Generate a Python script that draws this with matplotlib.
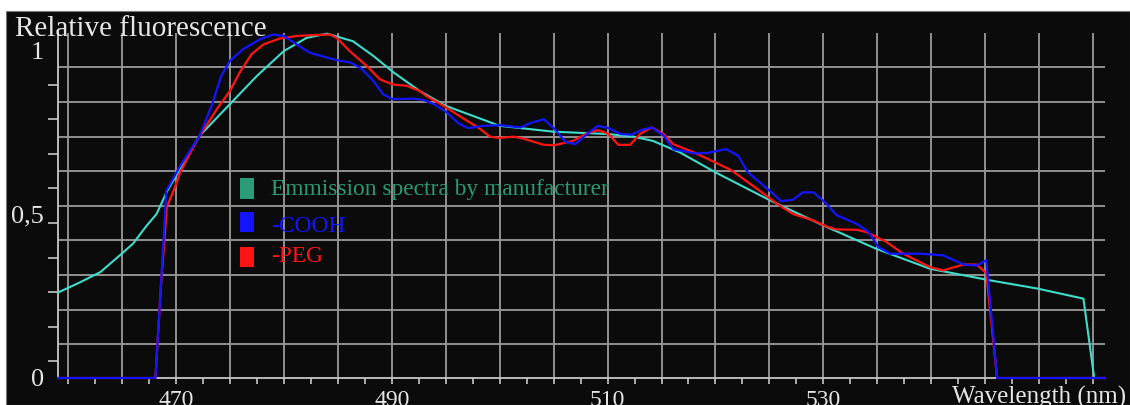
import numpy as np
import matplotlib
matplotlib.use("Agg")
import matplotlib.pyplot as plt
from matplotlib.patches import Rectangle

# Emission spectra (wavelength in nm, relative fluorescence)
wl_mfr = [459.1, 461.0, 463.0, 464.8, 466.0, 467.3, 468.2, 469.2, 472.2, 475.0,
          477.5, 480.0, 482.1, 484.0, 486.4, 488.3, 490.2, 492.6, 495.0, 500.0,
          505.0, 510.0, 512.4, 514.2, 516.7, 520.0, 525.1, 530.0, 534.9, 539.9,
          545.4, 549.8, 554.1, 555.1]
val_mfr = [0.261, 0.29, 0.323, 0.374, 0.409, 0.465, 0.500, 0.571, 0.739, 0.835,
           0.921, 0.997, 1.037, 1.050, 1.027, 0.982, 0.931, 0.875, 0.830, 0.769,
           0.751, 0.744, 0.736, 0.723, 0.688, 0.627, 0.541, 0.465, 0.394, 0.333,
           0.298, 0.273, 0.242, 0.0]

wl_cooh = [459.1, 468.1, 468.6, 469.0, 469.1, 470.4, 472.2, 473.3, 474.2, 475.0,
           476.2, 477.8, 479.0, 480.0, 481.2, 482.4, 484.0, 485.2, 486.1, 487.1,
           488.3, 489.2, 490.1, 492.0, 492.9, 493.9, 495.1, 496.2, 497.1, 498.5,
           500.0, 501.9, 503.0, 504.1, 505.1, 506.1, 507.0, 508.1, 509.1, 510.1,
           511.2, 512.2, 513.2, 514.1, 515.2, 516.1, 518.0, 519.2, 521.0, 522.1,
           523.0, 524.1, 525.2, 526.1, 527.2, 528.1, 529.1, 530.3, 531.2, 533.1,
           534.2, 535.1, 536.2, 539.0, 541.1, 543.0, 544.2, 545.1, 546.1, 556.1]
val_cooh = [0, 0, 0.277, 0.51, 0.571, 0.647, 0.739, 0.830, 0.921, 0.967,
            1.002, 1.033, 1.047, 1.043, 1.017, 0.992, 0.977, 0.967, 0.963, 0.946,
            0.906, 0.865, 0.850, 0.852, 0.848, 0.835, 0.810, 0.776, 0.762, 0.769,
            0.771, 0.764, 0.779, 0.789, 0.759, 0.720, 0.713, 0.744, 0.769, 0.762,
            0.744, 0.742, 0.757, 0.764, 0.739, 0.698, 0.685, 0.686, 0.698, 0.678,
            0.627, 0.597, 0.566, 0.539, 0.544, 0.566, 0.566, 0.531, 0.497, 0.470,
            0.445, 0.399, 0.379, 0.379, 0.374, 0.346, 0.343, 0.359, 0, 0]

wl_peg = [459.1, 468.1, 468.6, 469.0, 469.15, 469.9, 470.4, 471.9, 473.9, 475.0,
          475.9, 477.0, 478.1, 479.6, 481.2, 483.0, 484.3, 484.9, 486.1, 487.7,
          488.9, 490.1, 491.4, 492.6, 493.2, 494.8, 496.9, 498.0, 499.1, 500.0,
          501.3, 502.2, 504.1, 505.1, 506.8, 508.1, 509.1, 510.1, 511.0, 512.1,
          513.0, 514.1, 515.2, 516.1, 518.0, 520.0, 521.4, 522.6, 524.1, 525.7,
          527.2, 529.1, 530.3, 531.2, 533.1, 534.0, 535.9, 537.4, 538.0, 539.9,
          541.1, 543.0, 544.2, 545.1, 546.1, 556.1]
val_peg = [0, 0, 0.277, 0.45, 0.521, 0.581, 0.627, 0.723, 0.825, 0.875,
           0.931, 0.987, 1.017, 1.035, 1.043, 1.046, 1.047, 1.037, 0.997, 0.951,
           0.911, 0.895, 0.891, 0.875, 0.860, 0.830, 0.786, 0.764, 0.736, 0.732,
           0.736, 0.730, 0.711, 0.710, 0.723, 0.746, 0.756, 0.744, 0.711, 0.711,
           0.744, 0.764, 0.744, 0.713, 0.688, 0.657, 0.635, 0.607, 0.571, 0.531,
           0.500, 0.480, 0.462, 0.453, 0.452, 0.445, 0.414, 0.379, 0.369, 0.338,
           0.328, 0.346, 0.346, 0.32, 0, 0]

series_labels = ["Emmission spectra by manufacturer", "-COOH", "-PEG"]
x_tick_values = [470, 490, 510, 530]
y_tick_values = [0, 0.5, 1]
y_tick_labels = ["0", "0,5", "1"]

W, H = 1130, 405
SERIF = ["Liberation Serif", "DejaVu Serif"]
BG = "#0b0b0b"
TXT = "#e6e6e6"
GRID = "#9a9a9a"
AXC = "#c8c8c8"
C_MFR, C_COOH, C_PEG = "#3fdcca", "#1414ff", "#ff1414"
C_MFR_KEY = "#2b9c78"


def fx(px):
    return px / W


def fy(py):
    return 1 - py / H


fig = plt.figure(figsize=(W / 100, H / 100), dpi=100, facecolor="white")
# dark panel behind the whole chart
fig.patches.append(Rectangle((fx(6), 0), 1 - fx(6), fy(11), transform=fig.transFigure,
                             facecolor=BG, edgecolor="#777777", linewidth=0.8, zorder=-10))

ax = fig.add_axes([fx(58), fy(378), fx(1105) - fx(58), fy(33) - fy(378)])
ax.set_zorder(1)
ax.set_facecolor(BG)
ax.set_xlim(459.07, 556.1)
ax.set_ylim(0, 1.052)

# grid
for xv in np.arange(460, 556, 5):
    ax.axvline(xv, color=GRID, lw=1.3, zorder=1)
ystep = 0.1055
for k in range(9):
    ax.axhline(1 - ystep * (k + 0.5), color=GRID, lw=1.3, zorder=1)

ax.plot(wl_mfr, val_mfr, color=C_MFR, lw=1.5, zorder=3, clip_on=False)
ax.plot(wl_peg, val_peg, color=C_PEG, lw=1.6, zorder=4, clip_on=False)
ax.plot(wl_cooh, val_cooh, color=C_COOH, lw=1.6, zorder=5, clip_on=False)

for s in ["top", "right"]:
    ax.spines[s].set_visible(False)
for s in ["left", "bottom"]:
    ax.spines[s].set_color(AXC)
    ax.spines[s].set_linewidth(1.3)
    ax.spines[s].set_zorder(2)

ax.set_xticks(x_tick_values)
ax.set_xticklabels([str(v) for v in x_tick_values])
ax.set_xticks(np.arange(460, 556, 2.5), minor=True)
ax.tick_params(axis="x", which="both", direction="out", length=4, width=1.2, color=AXC,
               labelsize=17, labelcolor=TXT, pad=5)
ax.set_yticks(y_tick_values)
ax.set_yticklabels(y_tick_labels)
ax.set_yticks([1 - ystep * k for k in range(10)], minor=True)
ax.tick_params(axis="y", which="major", length=0, labelsize=19, labelcolor=TXT, pad=10)
ax.tick_params(axis="y", which="minor", direction="out", length=7, width=1.2, color=AXC)
for lab in ax.get_xticklabels() + ax.get_yticklabels():
    lab.set_family(SERIF)

fig.text(fx(15), fy(36), "Relative fluorescence", family=SERIF, fontsize=21,
         color=TXT, va="baseline", ha="left", zorder=5)
fig.text(fx(952), fy(386), "Wavelength (nm)", family=SERIF, fontsize=18,
         color=TXT, va="top", ha="left", zorder=5)

# key
keys = [(C_MFR_KEY, 178, 199, 190), (C_COOH, 212, 232, 227), (C_PEG, 247, 267, 257)]
text_colors = ["#2a9a76", C_COOH, C_PEG]
for (fc, y0, y1, yc), lab, tc in zip(keys, series_labels, text_colors):
    fig.patches.append(Rectangle((fx(240), fy(y1)), fx(254) - fx(240), fy(y0) - fy(y1),
                                 transform=fig.transFigure, facecolor=fc,
                                 edgecolor="none", zorder=5))
    fig.text(fx(271), fy(yc), lab, family=SERIF, fontsize=16.8, color=tc,
             va="center", ha="left", zorder=6)

fig.savefig("out.png", dpi=100, facecolor=fig.get_facecolor())
